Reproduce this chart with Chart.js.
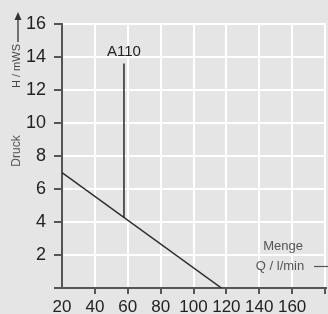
<!DOCTYPE html>
<html><head><meta charset="utf-8">
<script src="https://cdn.jsdelivr.net/npm/chart.js@4"></script>
<style>html,body{margin:0;padding:0;background:#e5e5e5;}#c{display:block;}</style>
</head><body>
<canvas id="c" width="328" height="314"></canvas>
<script>
// Data
const pumpQ = [20, 117];          // Q / l/min
const pumpH = [7, 0];             // H / mWS
const a110Q = [57.7, 57.7];
const a110H = [13.6, 4.3];
const xTickValues = [20, 40, 60, 80, 100, 120, 140, 160, 180];
const xTickLabels = ['20', '40', '60', '80', '100', '120', '140', '160', ''];
const yTickValues = [0, 2, 4, 6, 8, 10, 12, 14, 16];
const yTickLabels = ['', '2', '4', '6', '8', '10', '12', '14', '16'];
const seriesLabel = 'A110';

const FONT = "'Liberation Sans', Arial, sans-serif";

const textPlugin = {
  id: 'texts',
  afterDraw(chart) {
    const ctx = chart.ctx, xs = chart.scales.x, ys = chart.scales.y;
    ctx.save();
    // A110 label above vertical line
    ctx.fillStyle = '#222';
    ctx.font = '15px ' + FONT;
    ctx.textAlign = 'center';
    ctx.textBaseline = 'middle';
    ctx.fillText(seriesLabel, xs.getPixelForValue(a110Q[0]), ys.getPixelForValue(a110H[0]) - 12);
    // x-axis caption
    ctx.fillStyle = '#555';
    ctx.font = '13px ' + FONT;
    ctx.fillText('Menge', 283, 246);
    ctx.fillText('Q / l/min', 280, 266);
    ctx.strokeStyle = '#555';
    ctx.lineWidth = 1.2;
    ctx.beginPath(); ctx.moveTo(314, 266.5); ctx.lineTo(328, 266.5); ctx.stroke();
    // y-axis captions (rotated)
    ctx.save();
    ctx.translate(17, 66);
    ctx.rotate(-Math.PI / 2);
    ctx.font = '11px ' + FONT;
    ctx.fillStyle = '#444';
    ctx.fillText('H / mWS', 0, 0);
    ctx.restore();
    ctx.save();
    ctx.translate(17, 151);
    ctx.rotate(-Math.PI / 2);
    ctx.font = '12px ' + FONT;
    ctx.fillStyle = '#555';
    ctx.fillText('Druck', 0, 0);
    ctx.restore();
    // arrow
    ctx.strokeStyle = '#333';
    ctx.lineWidth = 1.3;
    ctx.beginPath(); ctx.moveTo(18, 42); ctx.lineTo(18, 18); ctx.stroke();
    ctx.fillStyle = '#333';
    ctx.beginPath(); ctx.moveTo(18, 12); ctx.lineTo(14.5, 20); ctx.lineTo(21.5, 20); ctx.closePath(); ctx.fill();
    ctx.restore();
  }
};

new Chart(document.getElementById('c'), {
  type: 'scatter',
  data: {
    datasets: [
      { label: 'Kennlinie', data: pumpQ.map((q, i) => ({x: q, y: pumpH[i]})), showLine: true,
        borderColor: '#2a2a2a', borderWidth: 1.5, pointRadius: 0, fill: false },
      { label: seriesLabel, data: a110Q.map((q, i) => ({x: q, y: a110H[i]})), showLine: true,
        borderColor: '#2a2a2a', borderWidth: 1.5, pointRadius: 0, fill: false }
    ]
  },
  options: {
    responsive: false, animation: false,
    layout: { padding: { top: 24, right: 0, left: 0, bottom: 0 } },
    plugins: { legend: { display: false }, tooltip: { enabled: false } },
    scales: {
      x: {
        type: 'linear', min: 20, max: 180.6,
        afterBuildTicks: s => { s.ticks = xTickValues.map(v => ({value: v})); },
        afterFit: s => { s.height = 26; },
        grid: { color: c => c.tick && c.tick.value === 20 ? 'rgba(0,0,0,0)' : '#ffffff', lineWidth: 2,
                tickColor: c => c.tick && c.tick.value === 20 ? 'rgba(0,0,0,0)' : '#555', tickLength: 6 },
        border: { display: true, color: '#555', width: 2 },
        ticks: { color: '#222', font: { size: 17, family: FONT }, padding: 3, maxRotation: 0, autoSkip: false,
                 callback: v => { const i = xTickValues.indexOf(v); return i >= 0 ? xTickLabels[i] : ''; } }
      },
      y: {
        type: 'linear', min: 0, max: 16,
        afterBuildTicks: s => { s.ticks = yTickValues.map(v => ({value: v})); },
        afterFit: s => { s.width = 62; },
        grid: { color: c => c.tick && c.tick.value === 0 ? 'rgba(0,0,0,0)' : '#ffffff', lineWidth: 2,
                tickColor: '#555', tickLength: 8 },
        border: { display: true, color: '#555', width: 2 },
        ticks: { color: '#222', font: { size: 18, family: FONT }, padding: 8,
                 callback: v => { const i = yTickValues.indexOf(v); return i >= 0 ? yTickLabels[i] : ''; } }
      }
    }
  },
  plugins: [textPlugin]
});
</script>
</body></html>
